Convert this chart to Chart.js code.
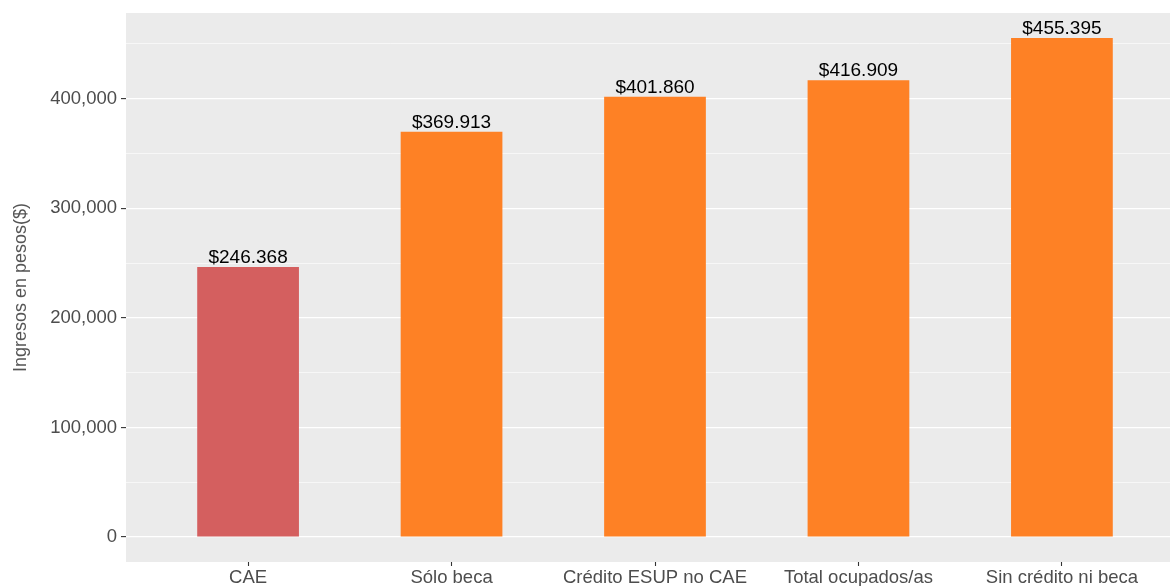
<!DOCTYPE html>
<html>
<head>
<meta charset="utf-8">
<script src="https://cdn.jsdelivr.net/npm/chart.js@4/dist/chart.umd.min.js"></script>
<style>
html,body{margin:0;padding:0;background:#fff;overflow:hidden;width:1170px;height:586px;}
canvas{display:block;}
</style>
</head>
<body>
<canvas id="c" width="1184" height="586"></canvas>
<script>
const categories = ["CAE", "Sólo beca", "Crédito ESUP no CAE", "Total ocupados/as", "Sin crédito ni beca"];
const ingresos = [246368, 369913, 401860, 416909, 455395];
const yTicks = [0, 50000, 100000, 150000, 200000, 250000, 300000, 350000, 400000, 450000];
const yTitle = "Ingresos en pesos($)";

const barColors = ["#D45F5F", "#FE8125", "#FE8125", "#FE8125", "#FE8125"];
const FONT = "'Liberation Sans', Arimo, Helvetica, Arial, sans-serif";

function fmtThousands(v, sep) {
  return String(Math.round(v)).replace(/\B(?=(\d{3})+(?!\d))/g, sep);
}

const panelBg = {
  id: 'panelBg',
  beforeDraw(chart) {
    const {ctx, chartArea: a} = chart;
    ctx.save();
    ctx.fillStyle = '#EBEBEB';
    ctx.fillRect(a.left, a.top, a.right - a.left, a.bottom - a.top);
    ctx.restore();
  }
};

const valueLabels = {
  id: 'valueLabels',
  afterDatasetsDraw(chart) {
    const {ctx} = chart;
    const meta = chart.getDatasetMeta(0);
    ctx.save();
    ctx.font = "19px " + FONT;
    ctx.fillStyle = '#000';
    ctx.textAlign = 'center';
    ctx.textBaseline = 'alphabetic';
    meta.data.forEach((bar, i) => {
      ctx.fillText('$' + fmtThousands(ingresos[i], '.'), bar.x, bar.y - 4);
    });
    ctx.restore();
  }
};

const data = ingresos.map((v, i) => ({x: i + 1, y: v}));
const yMax = Math.max(...ingresos);
const expand = 0.05 * yMax;

new Chart(document.getElementById('c'), {
  type: 'bar',
  data: {
    datasets: [{
      data: data,
      backgroundColor: barColors,
      borderWidth: 0,
      barPercentage: 0.5,
      categoryPercentage: 1.0
    }]
  },
  options: {
    responsive: false,
    animation: false,
    devicePixelRatio: 1,
    layout: {padding: {top: 13, left: 0, right: 0, bottom: 0}},
    plugins: {legend: {display: false}, tooltip: {enabled: false}},
    scales: {
      x: {
        type: 'linear',
        min: 0.4,
        max: 5.6,
        offset: false,
        afterBuildTicks(scale) {
          scale.ticks = categories.map((c, i) => ({value: i + 1}));
        },
        afterFit(scale) { scale.height = 24; scale.paddingLeft = 0; scale.paddingRight = 0; },
        grid: {
          display: true,
          offset: false,
          drawOnChartArea: false,
          drawTicks: true,
          tickLength: 4,
          tickColor: '#333333',
          tickWidth: 1.1
        },
        border: {display: false},
        ticks: {
          autoSkip: false,
          maxRotation: 0,
          padding: 1,
          color: '#4D4D4D',
          font: {family: FONT, size: 18.5},
          callback: (v) => categories[Math.round(v) - 1]
        }
      },
      y: {
        type: 'linear',
        min: -expand,
        max: yMax + expand,
        afterBuildTicks(scale) {
          scale.ticks = yTicks.map(v => ({value: v}));
        },
        afterFit(scale) { scale.width = 126; scale.paddingTop = 0; scale.paddingBottom = 0; },
        grid: {
          color: '#FFFFFF',
          lineWidth: (c) => (c.tick && c.tick.value % 100000 === 0) ? 1.2 : 0.6,
          tickLength: 5,
          tickColor: (c) => (c.tick && c.tick.value % 100000 === 0) ? '#333333' : 'rgba(0,0,0,0)',
          tickWidth: 1.1
        },
        border: {display: false},
        ticks: {
          padding: 4,
          color: '#4D4D4D',
          font: {family: FONT, size: 18.5},
          callback: (v) => (v % 100000 === 0) ? fmtThousands(v, ',') : ''
        },
        title: {
          display: true,
          text: yTitle,
          color: '#555555',
          font: {family: FONT, size: 18},
          padding: {top: 10, bottom: 0}
        }
      }
    }
  },
  plugins: [panelBg, valueLabels]
});
</script>
</body>
</html>
